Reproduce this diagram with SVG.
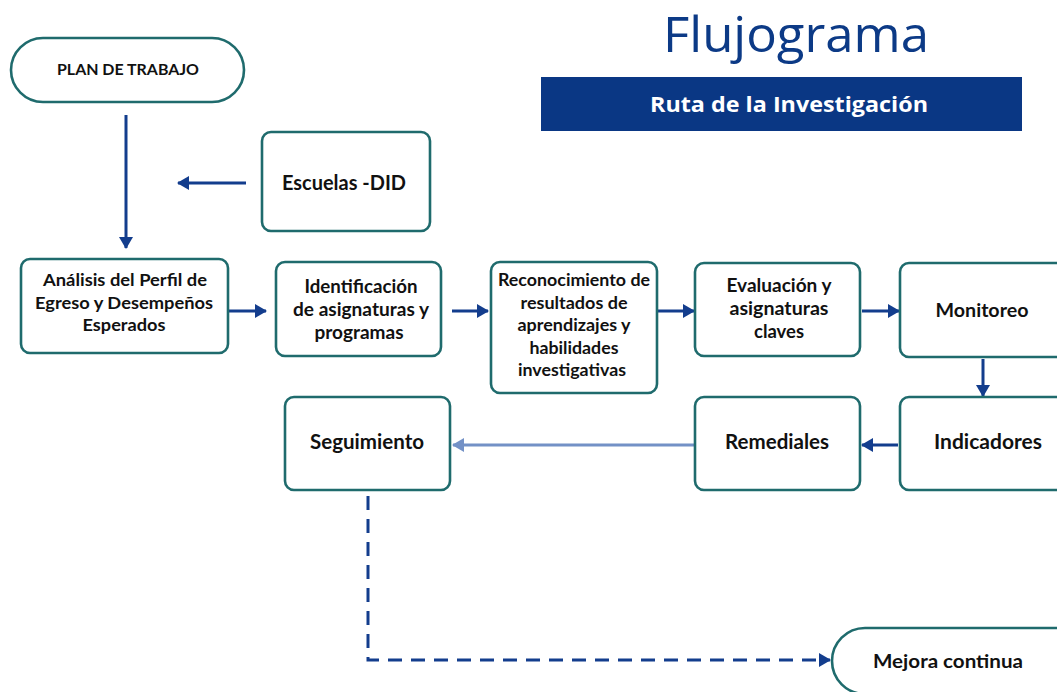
<svg xmlns="http://www.w3.org/2000/svg" width="1057" height="692" viewBox="0 0 1057 692">
<style>
.box{fill:#ffffff;stroke:#1f6b6d;stroke-width:2.6}
.t{font-family:Lato,"Open Sans","Liberation Sans",sans-serif;font-weight:bold;fill:#111111;text-anchor:middle}
.c{fill:none;stroke:#133d8d;stroke-width:3}
</style>
<defs>
<marker id="ah" markerUnits="userSpaceOnUse" markerWidth="14" markerHeight="14" viewBox="0 0 12 14" refX="11" refY="7" orient="auto">
<path d="M0,0 L12,7 L0,14 Z" fill="#133d8d"/>
</marker>
<marker id="ahl" markerUnits="userSpaceOnUse" markerWidth="14" markerHeight="14" viewBox="0 0 12 14" refX="11" refY="7" orient="auto">
<path d="M0,0 L12,7 L0,14 Z" fill="#7391c6"/>
</marker>
</defs>
<rect width="1057" height="692" fill="#ffffff"/>

<g id="title">
<text x="796" y="52" font-family="'Open Sans',Lato,sans-serif" font-size="50" fill="#0c3a86" text-anchor="middle" textLength="266" lengthAdjust="spacingAndGlyphs">Flujograma</text>
</g>
<g id="banner">
<rect x="541" y="77" width="481" height="54" fill="#0a3784"/>
<text x="789" y="112" font-family="'Open Sans',Lato,sans-serif" font-weight="bold" font-size="21" fill="#ffffff" text-anchor="middle" textLength="278" lengthAdjust="spacingAndGlyphs">Ruta de la Investigación</text>
</g>

<g id="connectors">
<line class="c" x1="126" y1="115" x2="126" y2="248" marker-end="url(#ah)"/>
<line class="c" x1="246" y1="183" x2="178" y2="183" marker-end="url(#ah)"/>
<line class="c" x1="228" y1="311" x2="266" y2="311" marker-end="url(#ah)"/>
<line class="c" x1="452" y1="311" x2="488" y2="311" marker-end="url(#ah)"/>
<line class="c" x1="657" y1="311" x2="694" y2="311" marker-end="url(#ah)"/>
<line class="c" x1="862" y1="311" x2="899" y2="311" marker-end="url(#ah)"/>
<line class="c" x1="983" y1="359" x2="983" y2="396" marker-end="url(#ah)"/>
<line class="c" x1="898" y1="445" x2="862" y2="445" marker-end="url(#ah)"/>
<line x1="694" y1="445" x2="453" y2="445" stroke="#7391c6" stroke-width="3" marker-end="url(#ahl)"/>
<path class="c" d="M368,496 L368,660 L830,660" stroke-dasharray="14,9" marker-end="url(#ah)"/>
</g>

<g id="plan">
<rect class="box" x="11" y="38" width="233" height="64" rx="32"/>
<text class="t" x="128" y="75" font-size="16" textLength="142" lengthAdjust="spacingAndGlyphs">PLAN DE TRABAJO</text>
</g>
<g id="escuelas">
<rect class="box" x="262" y="132" width="168" height="99" rx="9"/>
<text class="t" x="344" y="190" font-size="20" textLength="124" lengthAdjust="spacingAndGlyphs">Escuelas -DID</text>
</g>
<g id="analisis">
<rect class="box" x="21" y="259" width="207" height="94" rx="9"/>
<text class="t" font-size="17.5"><tspan x="125" y="286" textLength="164" lengthAdjust="spacingAndGlyphs">Análisis del Perfil de</tspan><tspan x="124" y="309" textLength="178" lengthAdjust="spacingAndGlyphs">Egreso y Desempeños</tspan><tspan x="124" y="331" textLength="83" lengthAdjust="spacingAndGlyphs">Esperados</tspan></text>
</g>
<g id="identificacion">
<rect class="box" x="276" y="262" width="165" height="94" rx="9"/>
<text class="t" font-size="18.5"><tspan x="361" y="293" textLength="113" lengthAdjust="spacingAndGlyphs">Identificación</tspan><tspan x="361" y="316" textLength="136" lengthAdjust="spacingAndGlyphs">de asignaturas y</tspan><tspan x="359" y="339" textLength="89" lengthAdjust="spacingAndGlyphs">programas</tspan></text>
</g>
<g id="reconocimiento">
<rect class="box" x="491" y="262" width="166" height="131" rx="9"/>
<text class="t" font-size="16.5"><tspan x="574" y="286" textLength="152" lengthAdjust="spacingAndGlyphs">Reconocimiento de</tspan><tspan x="574" y="308.5" textLength="107" lengthAdjust="spacingAndGlyphs">resultados de</tspan><tspan x="574" y="331" textLength="113" lengthAdjust="spacingAndGlyphs">aprendizajes y</tspan><tspan x="574" y="353.5" textLength="89" lengthAdjust="spacingAndGlyphs">habilidades</tspan><tspan x="572" y="376" textLength="108" lengthAdjust="spacingAndGlyphs">investigativas</tspan></text>
</g>
<g id="evaluacion">
<rect class="box" x="695" y="263" width="165" height="93" rx="9"/>
<text class="t" font-size="18.5"><tspan x="779" y="292" textLength="105" lengthAdjust="spacingAndGlyphs">Evaluación y</tspan><tspan x="779" y="315" textLength="99" lengthAdjust="spacingAndGlyphs">asignaturas</tspan><tspan x="779" y="338" textLength="50" lengthAdjust="spacingAndGlyphs">claves</tspan></text>
</g>
<g id="monitoreo">
<rect class="box" x="900" y="263" width="175" height="94" rx="9"/>
<text class="t" x="982" y="317" font-size="19.5" textLength="93" lengthAdjust="spacingAndGlyphs">Monitoreo</text>
</g>
<g id="indicadores">
<rect class="box" x="900" y="397" width="175" height="93" rx="9"/>
<text class="t" x="988" y="449" font-size="20" textLength="108" lengthAdjust="spacingAndGlyphs">Indicadores</text>
</g>
<g id="remediales">
<rect class="box" x="695" y="397" width="165" height="93" rx="9"/>
<text class="t" x="777" y="449" font-size="20" textLength="104" lengthAdjust="spacingAndGlyphs">Remediales</text>
</g>
<g id="seguimiento">
<rect class="box" x="285" y="397" width="165" height="93" rx="9"/>
<text class="t" x="367" y="449" font-size="20" textLength="114" lengthAdjust="spacingAndGlyphs">Seguimiento</text>
</g>
<g id="mejora">
<rect class="box" x="832" y="628" width="260" height="66" rx="33"/>
<text class="t" x="948" y="668" font-size="19.5" textLength="150" lengthAdjust="spacingAndGlyphs">Mejora continua</text>
</g>
</svg>
